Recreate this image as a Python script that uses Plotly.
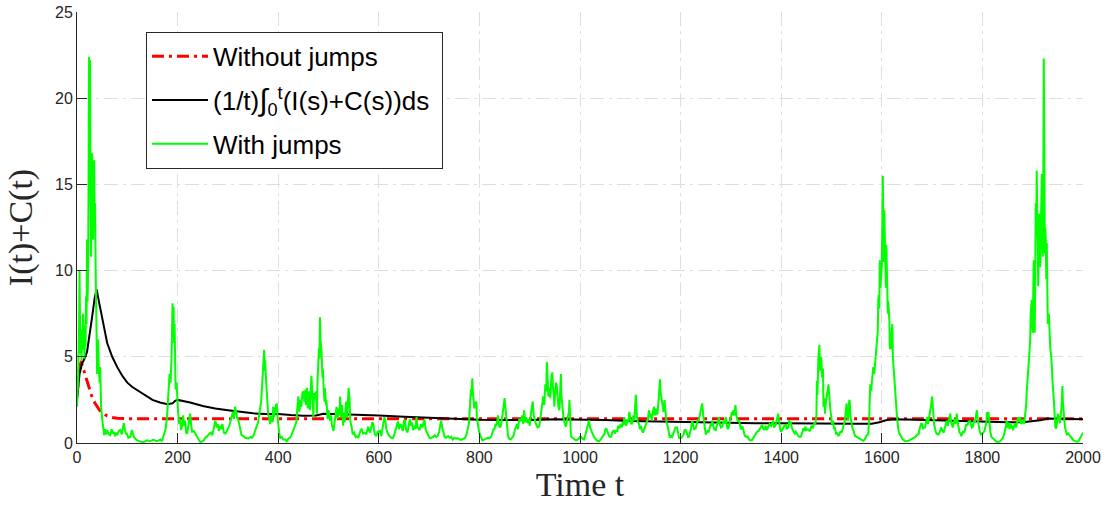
import plotly.graph_objects as go

# ---- data ----
x_ticks = [0, 200, 400, 600, 800, 1000, 1200, 1400, 1600, 1800, 2000]
y_ticks = [0, 5, 10, 15, 20, 25]

# "Without jumps" (deterministic model)
nojump_t = [0, 2, 4, 6, 8, 10, 15, 20, 25, 30, 35, 40, 45, 50, 60, 70, 80, 100, 150, 2000]
nojump_y = [2.7, 3.6, 4.2, 4.55, 4.65, 4.55, 4.1, 3.6, 3.1, 2.65, 2.35, 2.1, 1.9, 1.75, 1.57,
            1.48, 1.44, 1.41, 1.4, 1.4]

# time average (1/t) int_0^t (I+C) ds
avg_t = [0, 5, 10, 15, 20, 25, 30, 35, 39, 45, 50, 55, 60, 70, 80, 90, 100, 110, 120, 135, 150,
         165, 180, 190, 195, 200, 210, 225, 250, 275, 300, 325, 350, 375, 400, 425, 450, 475,
         490, 510, 550, 600, 650, 700, 750, 800, 850, 900, 950, 1000, 1050, 1100, 1150, 1200,
         1250, 1300, 1350, 1400, 1450, 1500, 1550, 1580, 1595, 1610, 1625, 1650, 1700, 1750,
         1800, 1850, 1880, 1900, 1915, 1930, 1950, 2000]
avg_y = [2.5, 4.0, 4.6, 4.9, 5.3, 6.2, 7.3, 8.4, 8.9, 8.0, 7.3, 6.5, 5.8, 5.0, 4.4, 3.9, 3.5,
         3.25, 3.05, 2.75, 2.5, 2.35, 2.25, 2.3, 2.45, 2.5, 2.45, 2.35, 2.15, 2.0, 1.9, 1.8,
         1.72, 1.68, 1.68, 1.62, 1.58, 1.6, 1.7, 1.68, 1.65, 1.6, 1.52, 1.45, 1.4, 1.35, 1.33,
         1.33, 1.38, 1.37, 1.33, 1.28, 1.25, 1.2, 1.18, 1.17, 1.15, 1.14, 1.12, 1.13, 1.12,
         1.12, 1.2, 1.33, 1.38, 1.37, 1.32, 1.28, 1.24, 1.2, 1.2, 1.25, 1.32, 1.42, 1.42, 1.38]

# "With jumps" sample path, (t, value) pairs
with_jumps = [
    (0, 2.1), (2, 3.5), (4, 6.5), (5, 10.0), (6, 7.0), (7, 5.2), (8, 6.3), (9, 4.8), (10, 6.6),
    (11, 5.4), (12, 7.5), (13, 6.0), (14, 6.4), (15, 4.9), (16, 6.8), (17, 5.6), (18, 8.5),
    (19, 6.9), (20, 11.8), (21, 8.2), (22, 9.8), (23, 15.0), (24, 22.4), (25, 17.5), (26, 22.2),
    (27, 14.0), (28, 10.8), (29, 13.5), (30, 16.8), (31, 12.0), (32, 11.8), (33, 14.5),
    (34, 16.4), (35, 12.5), (36, 13.9), (37, 10.2), (38, 8.3), (39, 5.5), (40, 4.0), (41, 5.0),
    (42, 6.0), (43, 4.5), (44, 4.0), (45, 3.5), (46, 4.4), (47, 3.0), (48, 2.1), (50, 1.4),
    (51, 0.95), (53, 0.7), (54, 0.46), (56, 0.8), (58, 0.5), (60, 0.75), (63, 0.5), (66, 0.46),
    (69, 0.8), (71, 0.55), (73, 0.65), (76, 0.4), (78, 0.6), (80, 0.45), (83, 0.7), (86, 0.75),
    (89, 0.5), (91, 0.9), (93, 1.15), (95, 0.8), (97, 0.55), (99, 0.55), (102, 0.3), (104, 0.35),
    (106, 0.35), (109, 0.75), (111, 0.6), (113, 0.35), (116, 0.25), (120, 0.15), (126, 0.08),
    (132, 0.05), (139, 0.15), (145, 0.1), (152, 0.2), (158, 0.1), (163, 0.15), (166, 0.2),
    (169, 0.1), (172, 0.45), (176, 0.8), (179, 1.5), (181, 2.5), (183, 3.6), (184, 4.0),
    (186, 3.5), (188, 5.0), (190, 8.1), (191, 6.5), (192, 7.9), (193, 5.8), (194, 6.9),
    (195, 4.5), (196, 3.1), (198, 3.5), (199, 2.5), (201, 1.8), (203, 1.1), (205, 1.4),
    (207, 0.75), (209, 1.0), (211, 1.6), (213, 1.0), (215, 1.3), (217, 0.6), (219, 0.55),
    (221, 0.9), (223, 1.2), (225, 1.7), (227, 1.0), (229, 0.65), (232, 0.7), (235, 0.55),
    (238, 0.4), (242, 0.18), (245, 0.05), (248, 0.08), (252, 0.15), (255, 0.3), (258, 0.35),
    (262, 0.5), (266, 0.6), (269, 0.45), (272, 0.9), (275, 1.3), (278, 0.9), (280, 1.1),
    (282, 0.7), (285, 1.0), (287, 0.8), (289, 1.1), (292, 0.6), (295, 0.56), (298, 0.7),
    (300, 0.8), (303, 1.0), (307, 1.5), (310, 1.8), (312, 1.4), (314, 2.1), (316, 1.9),
    (318, 1.5), (321, 1.3), (324, 0.8), (327, 0.46), (331, 0.4), (334, 0.3), (338, 0.28),
    (341, 0.27), (345, 0.35), (348, 0.3), (351, 0.45), (354, 0.75), (357, 0.9), (360, 1.2),
    (362, 1.6), (364, 1.9), (366, 2.4), (368, 3.3), (370, 4.5), (372, 5.4), (373, 4.2),
    (374, 4.8), (376, 3.6), (377, 3.0), (379, 2.2), (380, 1.7), (382, 1.4), (384, 1.1),
    (386, 1.6), (387, 1.5), (389, 1.2), (390, 2.1), (392, 1.5), (394, 2.0), (397, 2.3),
    (399, 1.4), (400, 0.95), (402, 0.6), (404, 0.3), (407, 0.35), (410, 0.2), (414, 0.2),
    (417, 0.1), (420, 0.25), (425, 0.35), (430, 0.7), (433, 0.95), (436, 1.2), (438, 2.0),
    (440, 2.7), (442, 1.8), (444, 2.5), (446, 2.1), (448, 2.9), (450, 3.0), (452, 2.4),
    (454, 3.1), (455, 2.2), (457, 3.2), (459, 2.0), (461, 3.0), (463, 1.9), (464, 2.6),
    (466, 3.9), (468, 2.8), (470, 1.5), (471, 2.9), (473, 2.5), (475, 3.0), (477, 1.7),
    (478, 3.5), (480, 4.4), (481, 5.5), (482, 4.9), (483, 7.3), (484, 6.0), (486, 5.4),
    (488, 3.8), (489, 4.3), (490, 3.4), (492, 2.4), (493, 3.2), (495, 2.2), (496, 2.5),
    (498, 1.4), (500, 1.9), (503, 1.3), (505, 1.6), (507, 1.0), (510, 0.7), (512, 1.3),
    (514, 1.9), (516, 2.1), (518, 1.4), (520, 2.0), (522, 1.6), (523, 2.7), (525, 1.5),
    (527, 2.2), (529, 1.0), (530, 1.7), (532, 1.2), (535, 2.4), (537, 1.5), (540, 3.2),
    (542, 2.5), (543, 1.4), (545, 1.0), (546, 0.95), (548, 0.5), (551, 0.6), (554, 0.35),
    (556, 0.4), (559, 0.3), (561, 0.5), (564, 0.75), (566, 0.8), (569, 0.55), (572, 0.6),
    (575, 0.5), (579, 0.95), (582, 0.6), (584, 0.75), (587, 1.2), (589, 1.1), (592, 0.5),
    (595, 0.4), (598, 0.7),
    (600, 0.6), (602, 0.75), (605, 0.4), (608, 0.9), (611, 1.5), (613, 1.3), (615, 0.8),
    (618, 0.55), (621, 0.4), (625, 0.3), (628, 0.28), (631, 0.5), (634, 0.9), (636, 1.1),
    (638, 1.25), (640, 0.8), (643, 1.1), (645, 0.95), (648, 0.7), (650, 1.3), (652, 1.35),
    (654, 0.8), (657, 0.6), (660, 1.1), (662, 1.4), (664, 1.0), (666, 1.2), (668, 0.75),
    (671, 1.0), (673, 0.8), (675, 1.5), (677, 0.9), (679, 0.8), (681, 0.75), (684, 1.1),
    (687, 0.9), (689, 1.2), (691, 1.35), (693, 0.8), (696, 0.6), (698, 0.4), (701, 0.28),
    (704, 0.3), (708, 0.35), (711, 0.45), (714, 0.35), (717, 0.4), (720, 0.65), (722, 1.0),
    (724, 1.3), (726, 0.9), (728, 0.6), (731, 0.35), (734, 0.3), (738, 0.4), (741, 0.3),
    (744, 0.35), (747, 0.2), (750, 0.3), (754, 0.25), (757, 0.28), (761, 0.2), (764, 0.18),
    (768, 0.25), (771, 0.28), (774, 0.45), (776, 0.7), (779, 1.1), (781, 2.0), (783, 3.1),
    (784, 2.7), (786, 3.75), (787, 3.0), (789, 2.5), (790, 2.0), (792, 2.2), (794, 2.4),
    (795, 1.5), (797, 0.9), (799, 0.7), (801, 0.5), (803, 0.3), (806, 0.15), (809, 0.2),
    (813, 0.25), (817, 0.3), (820, 0.28), (823, 0.35), (826, 0.6), (828, 0.8), (830, 0.8),
    (832, 1.1), (834, 1.0), (836, 1.6), (837, 1.6), (839, 1.0), (841, 0.9), (843, 1.05),
    (845, 1.4), (847, 1.8), (849, 2.3), (850, 2.6), (852, 1.9), (854, 1.0), (855, 0.6),
    (857, 0.4), (859, 0.25), (862, 0.2), (865, 0.3), (868, 0.45), (871, 0.8), (873, 0.95),
    (875, 1.1), (877, 0.8), (879, 1.4), (881, 1.3), (883, 1.35), (885, 1.6), (887, 1.1),
    (889, 1.9), (891, 1.2), (893, 1.5), (896, 1.15), (898, 1.4),
    (900, 1.0), (902, 1.6), (904, 2.0), (906, 2.4), (908, 1.6), (910, 1.3), (912, 1.15),
    (914, 1.0), (916, 0.9), (919, 0.95), (921, 1.4), (923, 1.7), (925, 2.0), (927, 2.7),
    (929, 2.2), (931, 3.4), (933, 3.0), (934, 4.7), (936, 3.6), (937, 2.7), (939, 3.2),
    (941, 2.6), (943, 3.8), (945, 4.1), (946, 3.3), (948, 2.8), (949, 2.1), (951, 2.9),
    (952, 3.5), (954, 3.3), (955, 2.5), (957, 2.1), (959, 1.9), (960, 3.0), (962, 4.0),
    (963, 2.8), (965, 2.0), (967, 1.5), (969, 1.2), (971, 1.0), (972, 0.95), (974, 1.3),
    (976, 1.6), (978, 1.8), (979, 2.5), (980, 1.4), (982, 0.4), (985, 0.3), (988, 0.22),
    (990, 0.18), (992, 0.15), (995, 0.2), (998, 0.25), (1000, 0.35), (1002, 0.37), (1005, 0.25),
    (1008, 0.2), (1010, 0.4), (1012, 0.65), (1014, 0.9), (1016, 1.1), (1018, 1.3), (1020, 0.9),
    (1022, 0.7), (1025, 0.55), (1028, 0.35), (1031, 0.2), (1033, 0.15), (1035, 0.13),
    (1038, 0.1), (1041, 0.2), (1045, 0.37), (1047, 0.5), (1049, 0.55), (1050, 0.75),
    (1052, 0.85), (1054, 0.7), (1056, 0.5), (1058, 0.4), (1060, 0.35), (1062, 0.37),
    (1064, 0.6), (1067, 0.75), (1069, 0.55), (1072, 0.75), (1074, 0.65), (1076, 1.0),
    (1078, 0.85), (1081, 1.1), (1083, 0.9), (1085, 1.2), (1087, 1.05), (1088, 1.5), (1090, 1.2),
    (1092, 1.0), (1094, 1.35), (1096, 1.2), (1098, 1.8), (1100, 1.5), (1102, 1.1), (1104, 1.15),
    (1106, 1.6), (1108, 1.3), (1110, 2.4), (1111, 2.8), (1113, 1.6), (1115, 1.2), (1117, 1.15),
    (1119, 0.8), (1121, 1.0), (1123, 0.75), (1125, 0.6), (1127, 0.75), (1129, 0.9), (1131, 1.1),
    (1133, 1.2), (1135, 1.4), (1137, 1.9), (1139, 1.5), (1141, 1.7), (1143, 1.3), (1145, 1.8),
    (1147, 2.1), (1149, 1.6), (1151, 2.0), (1153, 1.7), (1154, 1.7), (1156, 2.4), (1157, 3.0),
    (1159, 3.7), (1160, 3.0), (1162, 2.6), (1164, 2.1), (1166, 1.8), (1168, 2.5), (1170, 1.6),
    (1172, 1.2), (1173, 1.1), (1175, 0.9), (1177, 0.5), (1179, 0.3), (1181, 0.4), (1183, 0.35),
    (1185, 0.5), (1188, 0.8), (1190, 0.9), (1193, 0.9), (1195, 0.5), (1197, 0.3), (1200, 0.27),
    (1203, 0.35), (1206, 0.5), (1208, 0.75), (1210, 0.75), (1213, 0.5), (1215, 0.35),
    (1217, 0.37), (1219, 0.6), (1221, 0.9), (1223, 1.3), (1225, 1.0), (1227, 0.8), (1230, 0.85),
    (1232, 1.1), (1234, 1.3), (1236, 1.3), (1238, 1.6), (1240, 1.9), (1241, 2.2), (1243, 2.3),
    (1245, 1.6), (1247, 1.0), (1248, 0.75), (1250, 0.5), (1252, 0.6), (1254, 0.7), (1256, 0.65),
    (1258, 0.9), (1260, 1.1), (1262, 1.0), (1263, 1.3), (1265, 1.0), (1267, 0.8), (1270, 0.75),
    (1272, 1.0), (1274, 1.3), (1276, 1.5), (1278, 1.1), (1280, 0.9), (1283, 0.95), (1285, 1.3),
    (1287, 1.1), (1290, 1.5), (1292, 1.0), (1294, 0.8), (1296, 0.95), (1298, 1.2), (1300, 1.6),
    (1302, 1.8), (1303, 1.6), (1305, 1.9), (1307, 1.6), (1309, 2.2), (1311, 1.6), (1313, 1.3),
    (1316, 1.3), (1318, 1.0), (1320, 0.8), (1323, 0.95), (1326, 0.6), (1328, 0.4), (1331, 0.35),
    (1333, 0.37), (1336, 0.2), (1339, 0.15), (1342, 0.17), (1345, 0.3), (1348, 0.45),
    (1350, 0.55), (1352, 0.65), (1355, 0.7), (1357, 0.8), (1359, 0.9), (1362, 1.05),
    (1364, 0.85), (1367, 0.75), (1369, 1.0), (1372, 0.75), (1374, 0.95), (1377, 1.1),
    (1380, 1.0), (1382, 1.2), (1384, 1.3), (1386, 0.9), (1389, 1.05), (1391, 1.3), (1392, 1.4),
    (1394, 1.7), (1396, 1.2), (1399, 0.65), (1401, 0.7), (1404, 0.9), (1406, 1.0), (1409, 1.05),
    (1411, 0.8), (1414, 0.9), (1416, 1.25), (1419, 1.2), (1421, 0.9), (1424, 0.7), (1427, 0.55),
    (1429, 0.65), (1432, 0.5), (1434, 0.4), (1437, 0.35), (1439, 0.37), (1442, 0.6),
    (1444, 0.85), (1446, 0.7), (1448, 0.95), (1450, 0.75), (1453, 0.8), (1456, 0.7),
    (1458, 0.75), (1460, 1.0), (1463, 0.85), (1465, 1.1), (1468, 1.15), (1470, 1.6),
    (1471, 3.6), (1472, 2.8), (1474, 5.0), (1476, 5.7), (1477, 4.2), (1479, 5.0), (1480, 4.8),
    (1481, 3.8), (1483, 4.3), (1484, 2.1), (1486, 2.6), (1487, 1.7), (1489, 2.4), (1490, 2.7),
    (1492, 3.0), (1494, 3.4), (1495, 2.6), (1497, 2.2), (1499, 1.6), (1501, 1.1), (1503, 1.3),
    (1505, 0.8), (1507, 0.9), (1509, 0.5), (1511, 0.6), (1514, 0.4), (1516, 0.5), (1518, 0.7),
    (1520, 0.6), (1522, 0.75), (1524, 1.0), (1526, 1.2), (1527, 1.6), (1529, 1.9), (1530, 2.3),
    (1532, 1.5), (1533, 1.3), (1535, 2.4), (1536, 2.5), (1538, 1.5), (1540, 1.0), (1542, 0.8),
    (1544, 0.7), (1547, 0.4), (1550, 0.35), (1553, 0.3), (1557, 0.2), (1560, 0.15),
    (1563, 0.13), (1566, 0.2), (1570, 0.45), (1573, 0.5), (1575, 1.5), (1577, 3.4), (1579, 3.0),
    (1581, 3.8), (1583, 4.4), (1585, 4.0), (1587, 4.8), (1589, 5.4), (1590, 5.5), (1592, 6.5),
    (1593, 8.3), (1594, 8.6), (1595, 7.8), (1596, 10.6), (1597, 9.0), (1599, 9.8), (1600, 10.2),
    (1601, 12.5), (1602, 15.5), (1603, 13.0), (1604, 10.5), (1605, 13.5), (1606, 11.0),
    (1607, 10.3), (1608, 9.0), (1609, 11.5), (1611, 9.4), (1612, 7.5), (1613, 8.2), (1615, 7.1),
    (1616, 5.5), (1618, 5.5), (1619, 6.2), (1621, 6.9), (1622, 5.0), (1624, 4.0), (1626, 3.2),
    (1628, 2.4), (1630, 1.6), (1632, 1.0), (1634, 0.6), (1636, 0.5), (1639, 0.3), (1642, 0.2),
    (1646, 0.12), (1650, 0.1), (1655, 0.15), (1659, 0.22), (1663, 0.3), (1667, 0.35),
    (1671, 0.5), (1673, 0.5), (1676, 0.9), (1678, 1.1), (1680, 1.1), (1682, 0.85), (1684, 0.9),
    (1686, 0.9), (1688, 1.2), (1690, 1.5), (1692, 1.1), (1694, 1.4), (1696, 1.9), (1698, 2.2),
    (1700, 2.7), (1701, 2.2), (1703, 1.5), (1704, 1.1), (1706, 0.8), (1708, 0.6), (1711, 0.5),
    (1713, 0.5), (1716, 0.7), (1718, 0.9), (1720, 0.75), (1723, 0.6), (1726, 0.95), (1728, 1.2),
    (1729, 1.3), (1731, 1.0), (1733, 1.4), (1735, 1.6), (1736, 1.7), (1738, 1.2), (1740, 1.0),
    (1741, 0.9), (1743, 1.2), (1745, 1.4), (1747, 1.1), (1749, 1.7), (1751, 1.2), (1753, 0.8),
    (1755, 0.55), (1756, 0.6), (1758, 0.4), (1760, 0.55), (1762, 0.7), (1764, 0.6), (1766, 0.9),
    (1768, 1.1), (1770, 1.0), (1772, 1.2), (1775, 1.3), (1777, 1.0), (1779, 0.9), (1781, 0.95),
    (1783, 1.3), (1785, 1.2), (1787, 1.5), (1789, 1.9), (1791, 1.3), (1793, 0.8), (1795, 0.65),
    (1797, 0.5), (1800, 0.55), (1802, 0.6), (1804, 0.7), (1806, 1.0), (1808, 1.2), (1809, 1.8),
    (1811, 1.5), (1812, 1.8), (1814, 1.0), (1816, 0.6), (1818, 0.35), (1820, 0.3), (1823, 0.2),
    (1826, 0.15), (1829, 0.05), (1832, 0.05), (1835, 0.1), (1838, 0.2), (1841, 0.3),
    (1843, 0.5), (1845, 0.7), (1847, 1.0), (1848, 1.3), (1850, 0.9), (1852, 1.2), (1854, 0.8),
    (1855, 0.95), (1857, 1.1), (1859, 0.9), (1861, 0.75), (1863, 1.0), (1865, 1.15), (1867, 0.9),
    (1869, 1.3), (1871, 1.5), (1873, 1.2), (1875, 1.5), (1877, 1.1), (1879, 1.3), (1881, 1.35),
    (1883, 1.1), (1885, 1.6), (1887, 2.2), (1888, 2.9), (1890, 3.5), (1891, 4.2), (1893, 5.0),
    (1895, 6.0), (1896, 7.5), (1898, 8.3), (1899, 7.0), (1900, 6.4), (1901, 8.5), (1902, 10.6),
    (1903, 7.5), (1904, 6.4), (1905, 9.5), (1906, 13.9), (1907, 12.0), (1908, 15.8),
    (1909, 12.5), (1910, 10.3), (1911, 9.1), (1912, 11.0), (1913, 13.3), (1914, 11.5),
    (1915, 10.2), (1916, 12.0), (1917, 14.0), (1918, 15.6), (1919, 13.0), (1920, 10.8),
    (1921, 14.5), (1922, 22.3), (1923, 18.0), (1924, 11.0), (1925, 12.5), (1926, 11.8),
    (1927, 9.5), (1928, 11.6), (1929, 10.0), (1930, 6.9), (1932, 7.5), (1933, 6.6), (1935, 5.5),
    (1937, 5.0), (1938, 4.0), (1940, 3.3), (1942, 2.5), (1944, 1.1), (1945, 0.9), (1947, 0.85),
    (1948, 1.2), (1950, 1.7), (1952, 1.4), (1954, 1.15), (1955, 1.5), (1957, 1.9), (1958, 2.5),
    (1959, 3.3), (1960, 2.4), (1962, 1.5), (1964, 0.95), (1966, 0.7), (1968, 0.5), (1971, 0.55),
    (1974, 0.4), (1978, 0.27), (1981, 0.15), (1985, 0.1), (1988, 0.08), (1991, 0.1),
    (1994, 0.27), (1997, 0.4), (2000, 0.6),
]
jump_t = [p[0] for p in with_jumps]
jump_y = [p[1] for p in with_jumps]

name_nojump = "Without jumps"
name_avg = ("(1/t)<span style=\"font-size:30px\"><i>∫</i></span>"
            "<sub>0</sub><sup>t</sup>(I(s)+C(s))ds ")
name_jump = "With jumps"

AX = "#262626"
GRID = "#dedede"
SANS = "Liberation Sans, Arial, Helvetica, sans-serif"
SERIF = "Liberation Serif, Times New Roman, serif"

fig = go.Figure()
fig.add_trace(go.Scatter(x=nojump_t, y=nojump_y, mode="lines", name=name_nojump,
                         legendgroup="a",
                         line=dict(color="#ff0000", width=3, dash="12px,5px,3px,5px")))
fig.add_trace(go.Scatter(x=avg_t, y=avg_y, mode="lines", name=name_avg, legendgroup="b",
                         line=dict(color="#000000", width=2)))
fig.add_trace(go.Scatter(x=jump_t, y=jump_y, mode="lines", name=name_jump, legendgroup="c",
                         line=dict(color="#00ff00", width=2)))

fig.update_layout(
    width=1108, height=509,
    margin=dict(l=77, r=25, t=12, b=66, autoexpand=False),
    plot_bgcolor="white", paper_bgcolor="white",
    showlegend=True,
    legend=dict(x=0.0686, y=0.954, xanchor="left", yanchor="top",
                bgcolor="white", bordercolor=AX, borderwidth=1,
                font=dict(family=SANS, size=26, color="black"),
                itemwidth=56, tracegroupgap=7, traceorder="grouped"),
    xaxis=dict(range=[0, 2000], tickvals=x_ticks, ticktext=[str(v) for v in x_ticks],
               automargin=False,
               showgrid=True, gridcolor=GRID, griddash="14px,5px,3px,5px", gridwidth=1,
               showline=True, linecolor=AX, linewidth=1, zeroline=False,
               ticks="inside", ticklen=10, tickcolor=AX, tickwidth=1,
               tickfont=dict(family=SANS, size=16, color=AX),
               title=dict(text="Time t", font=dict(family=SERIF, size=34, color=AX),
                          standoff=6)),
    yaxis=dict(range=[0, 25], tickvals=y_ticks, ticktext=[str(v) for v in y_ticks],
               automargin=False,
               showgrid=True, gridcolor=GRID, griddash="14px,5px,3px,5px", gridwidth=1,
               showline=True, linecolor=AX, linewidth=1, zeroline=False,
               ticks="inside", ticklen=10, tickcolor=AX, tickwidth=1,
               tickfont=dict(family=SANS, size=16, color=AX),
               title=dict(text="I(t)+C(t)", font=dict(family=SERIF, size=34, color=AX),
                          standoff=12)),
)

fig.write_html("out.html", config={"displayModeBar": False},
               post_script="document.body.style.margin='0';")
